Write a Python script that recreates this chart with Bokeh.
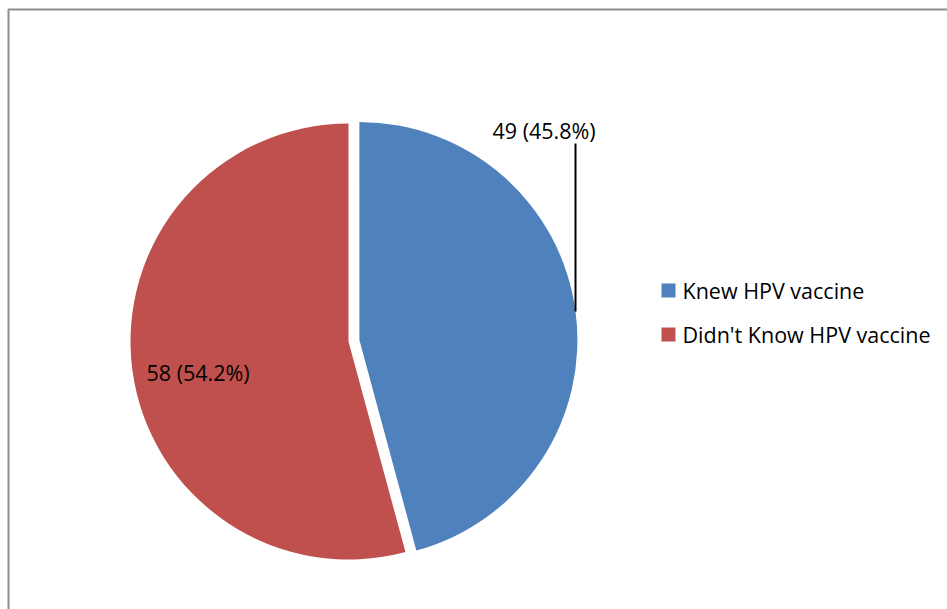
import math
from bokeh.plotting import figure
from bokeh.models import Range1d, ColumnDataSource
from bokeh.core.properties import value
from bokeh.embed import file_html
from bokeh.resources import INLINE

# ---- data ----
categories = ["Knew HPV vaccine", "Didn't Know HPV vaccine"]
counts = [49, 58]
colors = ["#4F81BD", "#C0504D"]

W, H = 947, 609
total = sum(counts)
pcts = [c / total * 100 for c in counts]
labels = [f"{c} ({p:.1f}%)" for c, p in zip(counts, pcts)]

p = figure(width=W, height=H, output_backend="svg", toolbar_location=None,
           x_range=Range1d(0, W), y_range=Range1d(0, H), min_border=0)
p.axis.visible = False
p.grid.visible = False
p.outline_line_color = None
p.background_fill_color = "white"
p.border_fill_color = "white"

def Y(y):
    return H - y

# chart frame (top and left edges visible)
p.line([8, 8, W + 20], [Y(H + 20), Y(9), Y(9)], line_color="#8E8E8E", line_width=2)

# pie: clockwise from 12 o'clock, first slice exploded
cx, cy, r = 348, 341, 218
explode = 11
start = math.pi / 2
for i, (c, col) in enumerate(zip(counts, colors)):
    sweep = 2 * math.pi * c / total
    a0 = start - sweep  # clockwise
    mid = start - sweep / 2
    ox = explode * math.cos(mid) if i == 0 else 0
    oy = explode * math.sin(mid) if i == 0 else 0
    p.wedge(x=[cx + ox], y=[Y(cy) + oy], radius=r, start_angle=a0, end_angle=start,
            fill_color=col, line_color=None)
    start = a0

font = value("Open Sans")
# data labels
p.text(x=[492], y=[Y(130)], text=[labels[0]], text_font=font, text_font_size="21.5px",
       text_align="left", text_baseline="middle", text_color="black")
p.line([575, 575], [Y(143), Y(311)], line_color="black", line_width=2)
p.text(x=[146], y=[Y(372)], text=[labels[1]], text_font=font, text_font_size="21.5px",
       text_align="left", text_baseline="middle", text_color="black")

# legend
ly = [290, 334]
src = ColumnDataSource(dict(x=[668] * 2, y=[Y(v) for v in ly], tx=[682] * 2,
                            c=colors, t=categories))
p.rect(x="x", y="y", width=14, height=14, fill_color="c", line_color=None, source=src)
p.text(x="tx", y="y", text="t", text_font=font, text_font_size="21.5px",
       text_align="left", text_baseline="middle", text_color="black", source=src)

open("out.html", "w").write(file_html(p, INLINE))
